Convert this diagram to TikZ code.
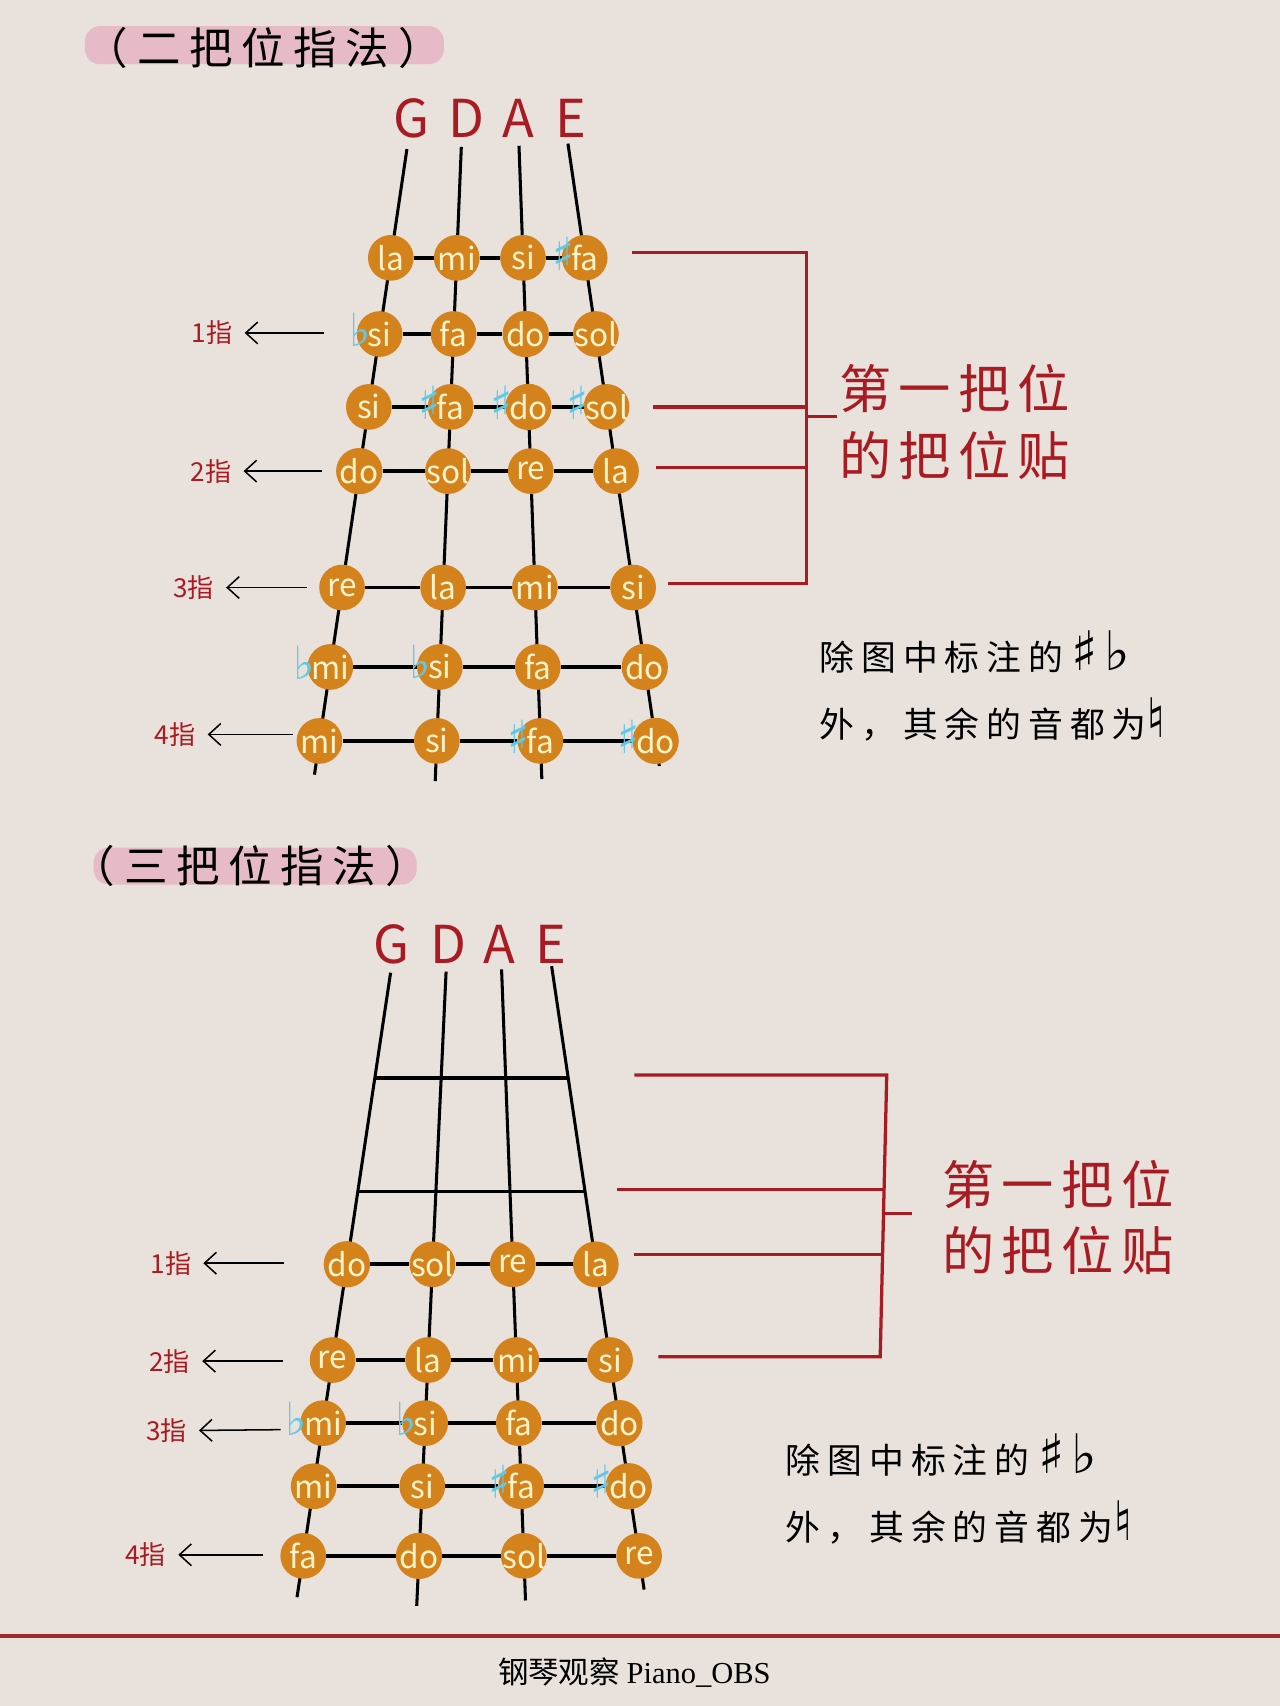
\documentclass[tikz,border=0pt]{standalone}
\usepackage{fontspec}
\setmainfont{Noto Sans CJK SC}
\newfontfamily\symf{DejaVu Sans}
\newfontfamily\latserif{Liberation Serif}
\newfontfamily\hwide{Noto Sans CJK SC}[LetterSpace=20]
\newfontfamily\hmid{Noto Sans CJK SC}[LetterSpace=14]
\usetikzlibrary{positioning,arrows.meta,backgrounds}

\definecolor{paper}{HTML}{E9E1DC}
\definecolor{dotorange}{HTML}{D4821C}
\definecolor{dottext}{HTML}{FFF3C9}
\definecolor{accblue}{HTML}{5FC9E8}
\definecolor{markred}{HTML}{A91B22}
\definecolor{pinkhl}{HTML}{E7BAC8}
\definecolor{footred}{HTML}{9E2B2C}

\newcommand\shp{\llap{\smash{\color{accblue}\symf\fontsize{42}{42}\selectfont ♯}\kern-3pt}}
\newcommand\flt{\llap{\smash{\color{accblue}\symf\fontsize{42}{42}\selectfont ♭}\kern-3pt}}
\newcommand\bigsym[1]{\smash{\symf\fontsize{50}{50}\selectfont #1}}

\begin{document}
\begin{tikzpicture}[x=1pt,y=-1pt,
  notedot/.style={circle,fill=dotorange,minimum size=42pt,inner sep=0pt,text=dottext,font=\fontsize{29}{29}\selectfont},
  strg/.style={line width=2.8pt},
  fretline/.style={line width=3.4pt},
  gdae/.style={text=markred,inner sep=0pt,font=\fontsize{48}{48}\selectfont},
  fing/.style={text=markred,inner xsep=11pt,inner ysep=0pt,font=\fontsize{24}{24}\selectfont},
  fingarrow/.style={-{Straight Barb[length=11pt,width=20pt]},line width=1.4pt},
  brk/.style={draw=markred,line width=3pt},
  ttl/.style={inner sep=0pt,font=\hwide\fontsize{40}{40}\selectfont},
  redlbl/.style={text=markred,align=left,anchor=west,inner sep=0pt,font=\hmid\fontsize{48}{61}\selectfont},
  notetxt/.style={align=left,anchor=west,inner sep=0pt,font=\hwide\fontsize{32}{62}\selectfont}]

  \begin{pgfonlayer}{background}
    \fill[paper] (0,0) rectangle (1176,1568);
  \end{pgfonlayer}
  \useasboundingbox (0,0) rectangle (1176,1568);

  % second position
  \fill[pinkhl,rounded corners=14pt] (78,24) rectangle (408,59);
  \node[ttl] (t2) at (242,44) {（二把位指法）};

  \node[gdae] (tG) at (378,109) {G};
  \node[gdae] (tD) at (429,109) {D};
  \node[gdae] (tA) at (476,109) {A};
  \node[gdae] (tE) at (525,109) {E};

  \coordinate (tGs) at (374,137); \coordinate (tGe) at (289,712);
  \coordinate (tDs) at (424,135); \coordinate (tDe) at (400,718);
  \coordinate (tAs) at (477,134); \coordinate (tAe) at (498,716);
  \coordinate (tEs) at (522,132); \coordinate (tEe) at (606,704);
  \draw[strg] (tGs) -- (tGe);
  \draw[strg] (tDs) -- (tDe);
  \draw[strg] (tAs) -- (tAe);
  \draw[strg] (tEs) -- (tEe);

  \node[notedot] (t1G) at (359.2,237) {la};
  \node[notedot] (t1D) at (419.8,237) {mi};
  \node[notedot] (t1A) at (480.7,237) {si};
  \node[notedot] (t1E) at (537.4,237) {\shp fa};

  \node[notedot] (t2G) at (348.9,307) {\flt si};
  \node[notedot] (t2D) at (416.9,307) {fa};
  \node[notedot] (t2A) at (483.2,307) {do};
  \node[notedot] (t2E) at (547.7,307) {\makebox[0pt]{sol}};

  \node[notedot] (t3G) at (339.0,374) {si};
  \node[notedot] (t3D) at (414.2,374) {\shp fa};
  \node[notedot] (t3A) at (485.7,374) {\shp do};
  \node[notedot] (t3E) at (557.5,374) {\makebox[0pt]{\shp sol}};

  \node[notedot] (t4G) at (330.2,433) {do};
  \node[notedot] (t4D) at (411.7,433) {\makebox[0pt]{sol}};
  \node[notedot] (t4A) at (487.8,433) {re};
  \node[notedot] (t4E) at (566.2,433) {la};

  \node[notedot] (t5G) at (314.4,540) {re};
  \node[notedot] (t5D) at (407.3,540) {la};
  \node[notedot] (t5A) at (491.6,540) {mi};
  \node[notedot] (t5E) at (581.9,540) {si};

  \node[notedot] (t6G) at (303.6,613) {\flt mi};
  \node[notedot] (t6D) at (404.3,613) {\flt si};
  \node[notedot] (t6A) at (494.3,613) {fa};
  \node[notedot] (t6E) at (592.6,613) {do};

  \node[notedot] (t7G) at (293.6,681) {mi};
  \node[notedot] (t7D) at (401.5,681) {si};
  \node[notedot] (t7A) at (496.7,681) {\shp fa};
  \node[notedot] (t7E) at (602.6,681) {\shp do};

  \begin{pgfonlayer}{background}
    \draw[fretline] (t1G) -- (t1D) -- (t1A) -- (t1E);
    \draw[fretline] (t2G) -- (t2D) -- (t2A) -- (t2E);
    \draw[fretline] (t3G) -- (t3D) -- (t3A) -- (t3E);
    \draw[fretline] (t4G) -- (t4D) -- (t4A) -- (t4E);
    \draw[fretline] (t5G) -- (t5D) -- (t5A) -- (t5E);
    \draw[fretline] (t6G) -- (t6D) -- (t6A) -- (t6E);
    \draw[fretline] (t7G) -- (t7D) -- (t7A) -- (t7E);
  \end{pgfonlayer}

  \node[fing] (tf1) at (195,306) {1指};
  \node[fing] (tf2) at (194,433) {2指};
  \node[fing] (tf3) at (178,540) {3指};
  \node[fing] (tf4) at (161,675) {4指};
  \coordinate (tf1e) at (298,306);
  \coordinate (tf2e) at (296,433);
  \coordinate (tf3e) at (282,540);
  \coordinate (tf4e) at (269,675);
  \draw[fingarrow] (tf1e) -- (tf1);
  \draw[fingarrow] (tf2e) -- (tf2);
  \draw[fingarrow] (tf3e) -- (tf3);
  \draw[fingarrow] (tf4e) -- (tf4);

  \coordinate (tk1) at (581,232); \coordinate (tk2) at (600,374);
  \coordinate (tk3) at (603,430); \coordinate (tk4) at (614,536);
  \coordinate (tkt) at (741,232); \coordinate (tkb) at (741,536);
  \coordinate (tkm) at (741,383);
  \draw[brk] (tk1) -- (tkt) -- (tkb) -- (tk4);
  \draw[brk] (tk2) -- (tk2 -| tkt);
  \draw[brk] (tk3) -- (tk3 -| tkt);
  \draw[brk] (tkm) -- ++(28,0);

  \node[redlbl] (tpos) at (771,388) {第一把位\\的把位贴};
  \node[notetxt] (tnote) at (753,635) {除图中标注的\hspace{8pt}\bigsym{♯\hspace{6pt}♭}\\外，其余的音都为\bigsym{♮}};

  % third position
  \fill[pinkhl,rounded corners=14pt] (86,779) rectangle (383,813);
  \node[ttl] (t3) at (230,796) {（三把位指法）};

  \node[gdae] (bG) at (360,868) {G};
  \node[gdae] (bD) at (412,868) {D};
  \node[gdae] (bA) at (459,868) {A};
  \node[gdae] (bE) at (506,868) {E};

  \coordinate (bGs) at (359,894); \coordinate (bGe) at (273,1468);
  \coordinate (bDs) at (410,893); \coordinate (bDe) at (383,1476);
  \coordinate (bAs) at (461,891); \coordinate (bAe) at (483,1471);
  \coordinate (bEs) at (507,888); \coordinate (bEe) at (592,1461);
  \draw[strg] (bGs) -- (bGe);
  \draw[strg] (bDs) -- (bDe);
  \draw[strg] (bAs) -- (bAe);
  \draw[strg] (bEs) -- (bEe);

  \coordinate (bf1G) at (344.5,991); \coordinate (bf1E) at (522.3,991);
  \coordinate (bf2G) at (328.9,1095); \coordinate (bf2E) at (537.7,1095);
  \draw[fretline] (bf1G) -- (bf1E);
  \draw[fretline] (bf2G) -- (bf2E);

  \node[notedot] (b1G) at (318.8,1162) {do};
  \node[notedot] (b1D) at (397.5,1162) {\makebox[0pt]{sol}};
  \node[notedot] (b1A) at (471.3,1162) {re};
  \node[notedot] (b1E) at (547.6,1162) {la};

  \node[notedot] (b2G) at (305.7,1250) {re};
  \node[notedot] (b2D) at (393.5,1250) {la};
  \node[notedot] (b2A) at (474.6,1250) {mi};
  \node[notedot] (b2E) at (560.7,1250) {si};

  \node[notedot] (b3G) at (297.0,1308) {\flt mi};
  \node[notedot] (b3D) at (390.8,1308) {\flt si};
  \node[notedot] (b3A) at (476.8,1308) {fa};
  \node[notedot] (b3E) at (569.3,1308) {do};

  \node[notedot] (b4G) at (288.3,1366) {mi};
  \node[notedot] (b4D) at (388.1,1366) {si};
  \node[notedot] (b4A) at (479.0,1366) {\shp fa};
  \node[notedot] (b4E) at (577.9,1366) {\shp do};

  \node[notedot] (b5G) at (278.7,1430) {fa};
  \node[notedot] (b5D) at (385.1,1430) {do};
  \node[notedot] (b5A) at (481.4,1430) {\makebox[0pt]{sol}};
  \node[notedot] (b5E) at (587.4,1430) {re};

  \begin{pgfonlayer}{background}
    \draw[fretline] (b1G) -- (b1D) -- (b1A) -- (b1E);
    \draw[fretline] (b2G) -- (b2D) -- (b2A) -- (b2E);
    \draw[fretline] (b3G) -- (b3D) -- (b3A) -- (b3E);
    \draw[fretline] (b4G) -- (b4D) -- (b4A) -- (b4E);
    \draw[fretline] (b5G) -- (b5D) -- (b5A) -- (b5E);
  \end{pgfonlayer}

  \node[fing] (bf1) at (157,1161) {1指};
  \node[fing] (bf2) at (156,1251) {2指};
  \node[fing] (bf3) at (153,1315) {3指};
  \node[fing] (bf4) at (134,1429) {4指};
  \coordinate (bf1e) at (261,1161);
  \coordinate (bf2e) at (260,1251);
  \coordinate (bf3e) at (258,1314);
  \coordinate (bf4e) at (242,1429);
  \draw[fingarrow] (bf1e) -- (bf1);
  \draw[fingarrow] (bf2e) -- (bf2);
  \draw[fingarrow] (bf3e) -- (bf3);
  \draw[fingarrow] (bf4e) -- (bf4);

  \coordinate (bk1) at (583,988); \coordinate (bk2) at (567,1093);
  \coordinate (bk3) at (583,1153); \coordinate (bk4) at (605,1247);
  \coordinate (bkt) at (815,988); \coordinate (bkb) at (809,1247);
  \coordinate (bk2r) at (812.6,1093); \coordinate (bk3r) at (811.2,1153);
  \coordinate (bkm) at (812,1115);
  \draw[brk] (bk1) -- (bkt) -- (bkb) -- (bk4);
  \draw[brk] (bk2) -- (bk2r);
  \draw[brk] (bk3) -- (bk3r);
  \draw[brk] (bkm) -- ++(26,0);

  \node[redlbl] (bpos) at (866,1119) {第一把位\\的把位贴};
  \node[notetxt] (bnote) at (722,1373) {除图中标注的\hspace{8pt}\bigsym{♯\hspace{6pt}♭}\\外，其余的音都为\bigsym{♮}};

  % footer
  \coordinate (fl) at (0,1504); \coordinate (fr) at (1176,1504);
  \draw[footred,line width=3.7pt] (fl) -- (fr);
  \node[font=\fontsize{28}{28}\selectfont] (ft) at (583,1537) {钢琴观察 {\latserif Piano\_OBS}};

\end{tikzpicture}
\end{document}
